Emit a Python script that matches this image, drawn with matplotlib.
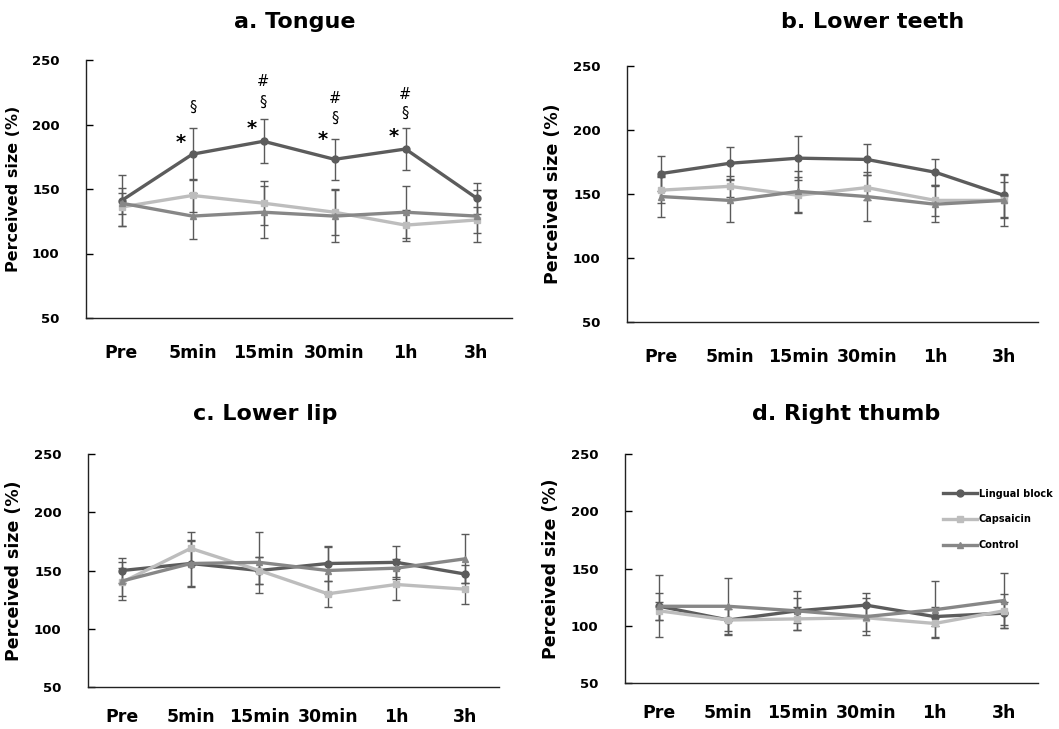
import numpy as np
import matplotlib
matplotlib.use("Agg")
import matplotlib.pyplot as plt
from matplotlib.lines import Line2D

timepoints = ["Pre", "5min", "15min", "30min", "1h", "3h"]
series_names = ["Lingual block", "Capsaicin", "Control"]

# panel a - tongue
tongue_lingual = [141, 177, 187, 173, 181, 143]
tongue_lingual_err = [20, 20, 17, 16, 16, 12]
tongue_caps = [136, 145, 139, 132, 122, 126]
tongue_caps_err = [15, 13, 17, 18, 12, 10]
tongue_ctrl = [139, 129, 132, 129, 132, 129]
tongue_ctrl_err = [8, 18, 20, 20, 20, 20]

# panel b - lower teeth
teeth_lingual = [166, 174, 178, 177, 167, 149]
teeth_lingual_err = [14, 13, 17, 12, 10, 17]
teeth_caps = [153, 156, 149, 155, 145, 145]
teeth_caps_err = [10, 8, 14, 10, 12, 14]
teeth_ctrl = [148, 145, 152, 148, 142, 145]
teeth_ctrl_err = [16, 17, 16, 19, 14, 20]

# panel c - lower lip
lip_lingual = [150, 156, 150, 156, 157, 147]
lip_lingual_err = [11, 19, 12, 15, 14, 8]
lip_caps = [140, 169, 150, 130, 138, 134]
lip_caps_err = [12, 14, 12, 11, 13, 13]
lip_ctrl = [141, 156, 157, 150, 152, 160]
lip_ctrl_err = [16, 20, 26, 20, 8, 21]

# panel d - right thumb
thumb_lingual = [117, 105, 113, 118, 108, 111]
thumb_lingual_err = [12, 10, 17, 11, 8, 10]
thumb_caps = [113, 105, 106, 107, 102, 113]
thumb_caps_err = [8, 12, 10, 12, 12, 15]
thumb_ctrl = [117, 117, 113, 108, 114, 122]
thumb_ctrl_err = [27, 25, 11, 16, 25, 24]

# significance marks on panel a
star_idx = [1, 2, 3, 4]
star_y = [186, 197, 188, 191]
sect_idx = [1, 2, 3, 4]
sect_y = [213, 217, 205, 209]
hash_idx = [2, 3, 4]
hash_y = [233, 220, 223]

yticks = [50, 100, 150, 200, 250]

colors = ["#5c5c5c", "#bdbdbd", "#878787"]
markers = ["o", "s", "^"]

fig = plt.figure(figsize=(10.59, 7.29), dpi=100)

W, H = 1059, 729
def box(l, t, r, b):
    return [l / W, 1 - b / H, (r - l) / W, (b - t) / H]

panels = [
    ("a. Tongue", box(86, 60, 512, 318), (295, 22),
     [(tongue_lingual, tongue_lingual_err), (tongue_caps, tongue_caps_err), (tongue_ctrl, tongue_ctrl_err)], 11.5, 19),
    ("b. Lower teeth", box(627, 66, 1038, 322), (873, 22),
     [(teeth_lingual, teeth_lingual_err), (teeth_caps, teeth_caps_err), (teeth_ctrl, teeth_ctrl_err)], 12.5, 19),
    ("c. Lower lip", box(88, 454, 499, 687), (265, 414),
     [(lip_lingual, lip_lingual_err), (lip_caps, lip_caps_err), (lip_ctrl, lip_ctrl_err)], 12.5, 15),
    ("d. Right thumb", box(625, 454, 1038, 683), (846, 414),
     [(thumb_lingual, thumb_lingual_err), (thumb_caps, thumb_caps_err), (thumb_ctrl, thumb_ctrl_err)], 12.5, 15),
]

x = np.arange(len(timepoints))
axes = []
for title, rect, tpos, data, ylsize, xpad in panels:
    ax = fig.add_axes(rect)
    axes.append(ax)
    for (vals, errs), c, m in zip(data, colors, markers):
        ax.errorbar(x, vals, yerr=errs, color=c, lw=2.4, marker=m, ms=5,
                    mec=c, mfc=c, ecolor="#5a5a5a", elinewidth=1,
                    capsize=3, capthick=1)
    ax.set_xlim(-0.5, 5.5)
    ax.set_ylim(50, 250)
    ax.set_yticks(yticks)
    ax.set_xticks(x)
    ax.set_xticklabels(timepoints, fontsize=12.5, fontweight="bold")
    ax.tick_params(axis="x", length=0, pad=xpad)
    ax.tick_params(axis="y", direction="in", length=5, pad=19, labelsize=9.5, width=1)
    for lab in ax.get_yticklabels():
        lab.set_fontweight("bold")
    for s in ["top", "right"]:
        ax.spines[s].set_visible(False)
    for s in ["left", "bottom"]:
        ax.spines[s].set_linewidth(1)
        ax.spines[s].set_color("#222222")
    ax.set_ylabel("Perceived size (%)", fontsize=ylsize, fontweight="bold", labelpad=8)
    fig.text(tpos[0] / W, 1 - tpos[1] / H, title, ha="center", va="center",
             fontsize=16, fontweight="bold")

ax = axes[0]
for i, yv in zip(star_idx, star_y):
    ax.text(i - 0.17, yv, "*", ha="center", va="center", fontsize=14, fontweight="bold")
for i, yv in zip(sect_idx, sect_y):
    ax.text(i, yv, "§", ha="center", va="center", fontsize=10.5)
for i, yv in zip(hash_idx, hash_y):
    ax.text(i, yv, "#", ha="center", va="center", fontsize=10.5)

handles = [Line2D([], [], color=c, lw=2.4, marker=m, ms=5, mec=c, mfc=c)
           for c, m in zip(colors, markers)]
axes[3].legend(handles, series_names, loc="upper left",
               bbox_to_anchor=(938 / W, 1 - 484 / H),
               bbox_transform=fig.transFigure, frameon=False,
               handlelength=3.5, handletextpad=0.2, labelspacing=1.6,
               borderpad=0, prop={"weight": "bold", "size": 7})

fig.savefig("out.png", dpi=100)
